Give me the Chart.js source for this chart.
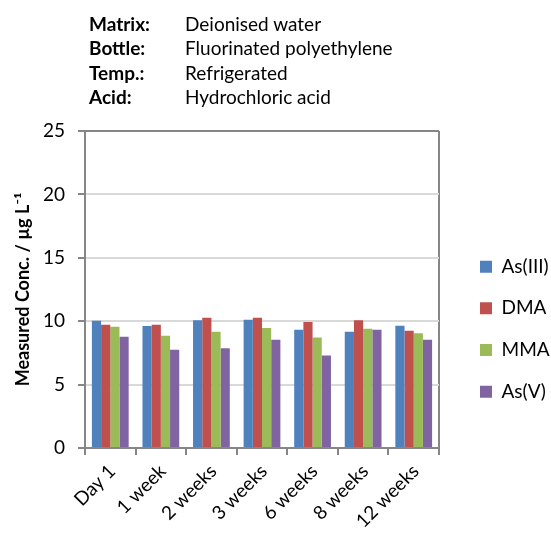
<!DOCTYPE html>
<html>
<head>
<meta charset="utf-8">
<script src="https://cdn.jsdelivr.net/npm/chart.js@4/dist/chart.umd.min.js"></script>
<style>
html,body{margin:0;padding:0;background:#fff;}
#wrap{position:relative;width:551px;height:534px;overflow:hidden;}
#c{position:absolute;left:0;top:0;}
#info{position:absolute;left:89px;top:12px;font-family:Lato,sans-serif;font-size:19px;line-height:24.3px;color:#000;}
#info .row{display:flex;white-space:nowrap;}
#info .k{font-weight:bold;width:96px;}
</style>
</head>
<body>
<div id="wrap">
<canvas id="c" width="551" height="534"></canvas>
<div id="info"></div>
</div>
<script>
// ---- data ----
const infoLabels = ['Matrix:', 'Bottle:', 'Temp.:', 'Acid:'];
const infoValues = ['Deionised water', 'Fluorinated polyethylene', 'Refrigerated', 'Hydrochloric acid'];

const categories = ['Day 1', '1 week', '2 weeks', '3 weeks', '6 weeks', '8 weeks', '12 weeks'];
const seriesNames = ['As(III)', 'DMA', 'MMA', 'As(V)'];
const asIII = [10.04, 9.62, 10.07, 10.12, 9.33, 9.17, 9.64];
const dma   = [9.72, 9.72, 10.28, 10.28, 9.93, 10.07, 9.25];
const mma   = [9.57, 8.86, 9.17, 9.46, 8.72, 9.41, 9.04];
const asV   = [8.78, 7.75, 7.86, 8.54, 7.30, 9.33, 8.54];
const yMin = 0, yMax = 25, yStep = 5;
const yTitle = 'Measured Conc. / µg L⁻¹';

// ---- styles / layout ----
const colors = ['#4F81BD', '#C0504D', '#9BBB59', '#8064A2'];
const axisGray = '#868686';
const gridGray = '#d9d9d9';
const fontFamily = 'Lato, sans-serif';
const fontSize = 19;
const W = 551, H = 534;
const plotLeft = 85, plotRight = 439, plotBottom = 448;
const padLeft = 12;
const padTop = 131;
const padBottom = 6.6;
const legendPad = 22.7;
const legendBox = 12;
const legendBoxX = 480;

// measure legend text to size legend
const mctx = document.createElement('canvas').getContext('2d');
mctx.font = fontSize + 'px ' + fontFamily;
const maxText = Math.max(...seriesNames.map((s) => mctx.measureText(s).width));
const legendW = legendPad + legendBox + fontSize / 2 + maxText + 1;
let legendLeft = legendBoxX - legendPad;
let padRight = W - legendLeft - legendW;
if (padRight < 0) { padRight = 0; legendLeft = W - legendW; }
const gapW = Math.max(0, legendLeft - plotRight);

// info block (HTML text)
const info = document.getElementById('info');
infoLabels.forEach((k, i) => {
  const row = document.createElement('div');
  row.className = 'row';
  const a = document.createElement('span'); a.className = 'k'; a.textContent = k;
  const b = document.createElement('span'); b.textContent = infoValues[i];
  row.appendChild(a); row.appendChild(b);
  info.appendChild(row);
});

Chart.defaults.font.family = fontFamily;
Chart.defaults.font.size = fontSize;
Chart.defaults.color = '#000';

const seriesData = [asIII, dma, mma, asV];

new Chart(document.getElementById('c'), {
  type: 'bar',
  data: {
    labels: categories,
    datasets: seriesNames.map((n, i) => ({
      label: n,
      data: seriesData[i],
      backgroundColor: colors[i],
      borderWidth: 0
    }))
  },
  options: {
    responsive: false,
    animation: false,
    layout: { padding: { top: padTop, left: padLeft, right: padRight, bottom: padBottom } },
    datasets: { bar: { categoryPercentage: 0.727, barPercentage: 1 } },
    plugins: {
      tooltip: { enabled: false },
      legend: {
        position: 'right',
        maxWidth: legendW,
        labels: { boxWidth: legendBox, boxHeight: legendBox, padding: legendPad, color: '#000', font: { size: fontSize } }
      }
    },
    scales: {
      x: {
        grid: {
          offset: true,
          drawOnChartArea: true,
          color: (ctx) => (ctx.index === undefined ? axisGray : 'rgba(0,0,0,0)'),
          lineWidth: 2,
          tickColor: axisGray,
          tickLength: 7
        },
        border: { color: axisGray, width: 2 },
        ticks: { minRotation: 45, maxRotation: 45, autoSkip: false, padding: 5, labelOffset: 2, color: '#000' },
        afterFit: (s) => { s.height = H - padBottom - plotBottom; }
      },
      y: {
        min: yMin, max: yMax,
        ticks: { stepSize: yStep, padding: 13, color: '#000' },
        grid: {
          color: (ctx) => (ctx.tick && ctx.tick.value === yMax ? axisGray : gridGray),
          lineWidth: 2,
          tickColor: axisGray,
          tickLength: 7
        },
        border: { color: axisGray, width: 2 },
        title: { display: true, text: yTitle, font: { weight: 'bold', size: 18 }, padding: { top: 0, bottom: 0 }, color: '#000' },
        afterFit: (s) => { s.width = plotLeft - padLeft; }
      },
      y2: {
        position: 'right',
        display: true,
        grid: { display: false },
        ticks: { display: false },
        border: { display: false },
        afterFit: (s) => { s.width = gapW; }
      }
    }
  }
});
</script>
</body>
</html>
